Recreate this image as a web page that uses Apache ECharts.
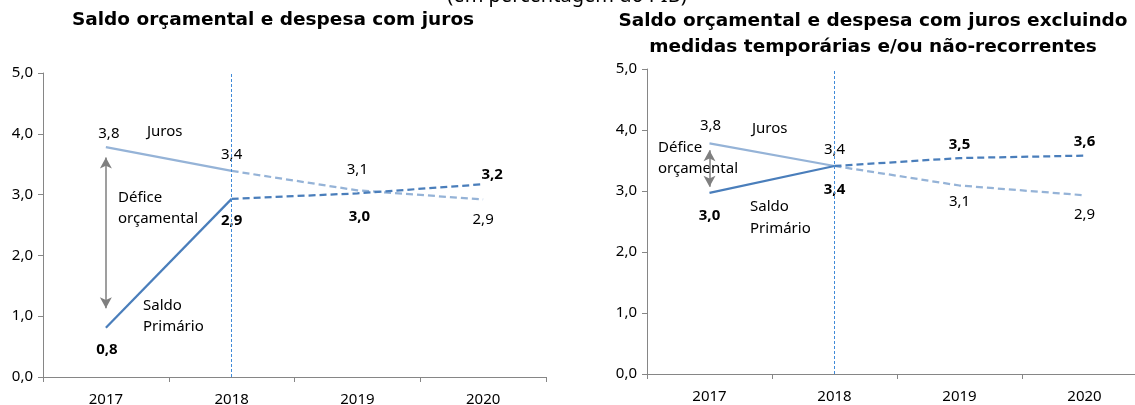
<!DOCTYPE html>
<html>
<head>
<meta charset="utf-8">
<title>Saldo orçamental e despesa com juros</title>
<script src="https://cdn.jsdelivr.net/npm/echarts@6/dist/echarts.min.js"></script>
<style>
  body { margin: 0; background: #fff; }
  #main { width: 1135px; height: 405px; }
</style>
</head>
<body>
<div id="main"></div>
<script>
// dados (em % do PIB)
var anos = ['2017', '2018', '2019', '2020'];
var jurosEsq = [3.78, 3.39, 3.07, 2.92];
var saldoEsq = [0.81, 2.93, 3.02, 3.17];
var jurosDir = [3.78, 3.41, 3.09, 2.93];
var saldoDir = [2.97, 3.41, 3.54, 3.58];
// setas "Défice orçamental" [topo, base] na coluna 2017
var setaEsq = [3.61, 1.13];
var setaDir = [3.67, 3.07];

var corJuros = '#95b3d7';
var corSaldo = '#4a7ebb';
var corVertical = '#3f8ad8';
var fonte = 'Noto Sans';

function fmt(v) { return v.toFixed(1).replace('.', ','); }

// pos/dist/dx por ponto
function pontos(vals, pos, dist, dx, negrito, de, ate) {
  return vals.map(function (v, i) {
    if (i < de || i > ate) return null;
    var mostra = (de === 0) ? i === 0 : true;
    return {
      value: v,
      label: {
        show: mostra,
        position: pos[i],
        distance: dist[i],
        offset: [dx[i], 0],
        formatter: function (p) { return fmt(p.value); },
        fontFamily: fonte,
        fontSize: 15,
        color: '#000',
        fontWeight: negrito ? 'bold' : 'normal'
      }
    };
  });
}

function linhas(g, juros, saldo, cfg, seta) {
  var base = {
    type: 'line', xAxisIndex: g, yAxisIndex: g, silent: true, connectNulls: false,
    symbol: 'circle', symbolSize: 0, showSymbol: true
  };
  var tracejado = { color: corVertical, width: 1, type: [3, 2], opacity: 1 };
  return [
    Object.assign({}, base, {
      data: pontos(juros, cfg.jp, cfg.jd, cfg.jx, false, 0, 1),
      itemStyle: { color: corJuros },
      lineStyle: { color: corJuros, width: 2.25 }
    }),
    Object.assign({}, base, {
      data: pontos(juros, cfg.jp, cfg.jd, cfg.jx, false, 1, 3),
      itemStyle: { color: corJuros },
      lineStyle: { color: corJuros, width: 2.25, type: [7, 4] }
    }),
    Object.assign({}, base, {
      data: pontos(saldo, cfg.sp, cfg.sd, cfg.sx, true, 0, 1),
      itemStyle: { color: corSaldo },
      lineStyle: { color: corSaldo, width: 2.25 },
      markLine: {
        silent: true, symbol: ['arrow', 'arrow'], symbolSize: [9, 11], label: { show: false },
        lineStyle: { color: '#7f7f7f', width: 1.5, type: 'solid', opacity: 1 },
        data: [[{ coord: ['2017', seta[0]] }, { coord: ['2017', seta[1]] }]]
      }
    }),
    Object.assign({}, base, {
      data: pontos(saldo, cfg.sp, cfg.sd, cfg.sx, true, 1, 3),
      itemStyle: { color: corSaldo },
      lineStyle: { color: corSaldo, width: 2.25, type: [7, 4] },
      markLine: {
        silent: true, symbol: 'none', label: { show: false }, z: 10,
        lineStyle: tracejado,
        data: [{ xAxis: '2018', lineStyle: tracejado }]
      }
    })
  ];
}

var cfgEsq = {
  jp: ['top', 'top', 'top', 'bottom'], jd: [6, 9, 13, 13], jx: [3, 0, 0, 0],
  sp: ['bottom', 'bottom', 'bottom', 'top'], sd: [14, 14, 16, 2], sx: [1, 0, 2, 9]
};
var cfgDir = {
  jp: ['top', 'top', 'bottom', 'bottom'], jd: [10, 9, 9, 12], jx: [1, 0, 0, 0],
  sp: ['bottom', 'bottom', 'top', 'top'], sd: [15, 16, 6, 6], sx: [0, 0, 0, 0]
};

var eixoCor = '#868686';
function eixoX(g) {
  return {
    type: 'category', gridIndex: g, data: anos, boundaryGap: true,
    axisLine: { lineStyle: { color: eixoCor, width: 1 } },
    axisTick: { show: true, length: 5, lineStyle: { color: eixoCor } },
    axisLabel: { color: '#000', fontFamily: fonte, fontSize: 15, margin: 15 },
    splitLine: { show: false }
  };
}
function eixoY(g) {
  return {
    type: 'value', gridIndex: g, min: 0, max: 5, interval: 1,
    axisLine: { show: true, lineStyle: { color: eixoCor, width: 1 } },
    axisTick: { show: true, length: 5, lineStyle: { color: eixoCor } },
    axisLabel: { color: '#000', fontFamily: fonte, fontSize: 15, margin: 10, formatter: fmt },
    splitLine: { show: false }
  };
}

function texto(x, y, t, extra) {
  return {
    type: 'text', x: x, y: y, silent: true,
    style: Object.assign({ text: t, fill: '#000', font: '15px "Noto Sans"', verticalAlign: 'middle', align: 'left' }, extra || {})
  };
}
var fTitulo = 'bold 18.5px "DejaVu Sans"';

var chart = echarts.init(document.getElementById('main'));
chart.setOption({
  animation: false,
  backgroundColor: '#fff',
  grid: [
    { left: 43, top: 73, width: 503, height: 304, outerBoundsMode: 'none', containLabel: false },
    { left: 647, top: 69, width: 500, height: 305, outerBoundsMode: 'none', containLabel: false }
  ],
  xAxis: [eixoX(0), eixoX(1)],
  yAxis: [eixoY(0), eixoY(1)],
  series: linhas(0, jurosEsq, saldoEsq, cfgEsq, setaEsq).concat(linhas(1, jurosDir, saldoDir, cfgDir, setaDir)),
  graphic: [
    texto(567, -4, '(em percentagem do PIB)', { align: 'center', font: '20px "Noto Sans"' }),
    texto(273, 20, 'Saldo orçamental e despesa com juros', { align: 'center', font: fTitulo }),
    texto(873, 21, 'Saldo orçamental e despesa com juros excluindo', { align: 'center', font: fTitulo }),
    texto(873, 47, 'medidas temporárias e/ou não-recorrentes', { align: 'center', font: fTitulo }),
    texto(147, 132, 'Juros'),
    texto(118, 198, 'Défice'),
    texto(118, 219, 'orçamental'),
    texto(143, 306, 'Saldo'),
    texto(143, 327, 'Primário'),
    texto(752, 129, 'Juros'),
    texto(658, 148, 'Défice'),
    texto(658, 169, 'orçamental'),
    texto(750, 207, 'Saldo'),
    texto(750, 229, 'Primário')
  ]
});
</script>
</body>
</html>
